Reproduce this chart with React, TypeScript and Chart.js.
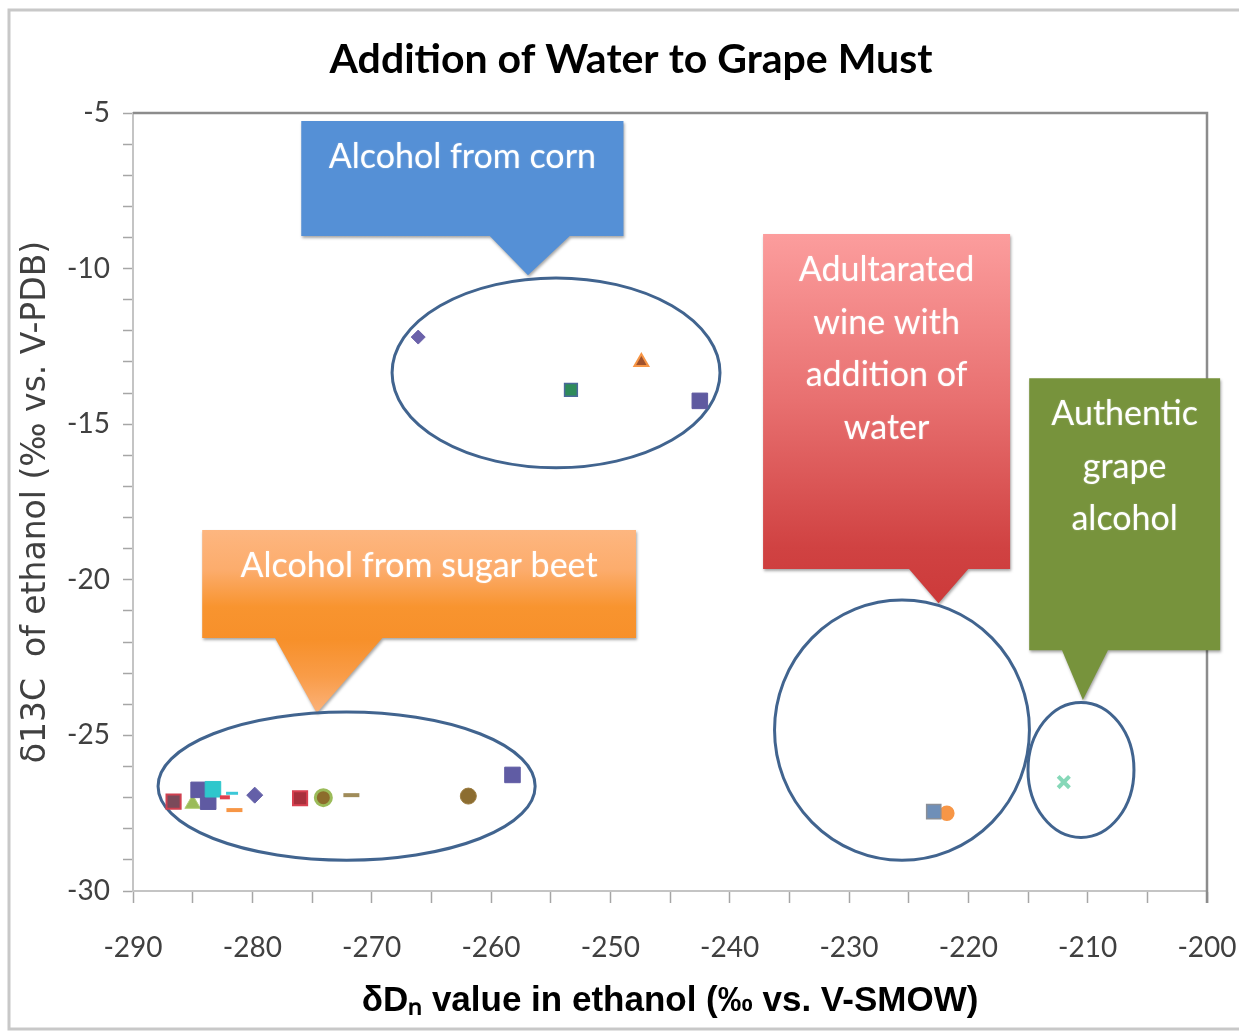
import { useEffect, useRef } from 'react';
import { Chart, registerables } from 'chart.js';

Chart.register(...registerables);

// ---------- text ----------
const chartTitle = 'Addition of Water to Grape Must';
const xAxisTitle = 'δDₙ value in ethanol (‰ vs. V-SMOW)';
const yAxisTitle = 'δ13C  of ethanol (‰ vs. V-PDB)';
const xTickLabels = ['-290', '-280', '-270', '-260', '-250', '-240', '-230', '-220', '-210', '-200'];
const yTickLabels = ['-5', '-10', '-15', '-20', '-25', '-30'];

// ---------- data (δD, δ13C) ----------
const cornD = [-266.1, -253.3, -247.4, -242.5];
const cornC = [-12.2, -13.9, -13.0, -14.25];

const beetD = [-286.6, -285.0, -284.5, -283.7, -283.3, -282.3, -281.7, -281.5, -279.8, -276.0, -274.05, -271.7, -261.9, -258.2];
const beetC = [-27.13, -27.2, -26.75, -27.13, -26.73, -26.99, -26.86, -27.4, -26.92, -27.02, -27.0, -26.92, -26.95, -26.27];

const adulteratedD = [-221.8, -222.9];
const adulteratedC = [-27.5, -27.45];

const authenticD = [-212.0];
const authenticC = [-26.5];

// ---------- callout texts ----------
const cornLabel = ['Alcohol from corn'];
const beetLabel = ['Alcohol from sugar beet'];
const adulteratedLabel = ['Adultarated', 'wine with', 'addition of', 'water'];
const authenticLabel = ['Authentic', 'grape', 'alcohol'];

// ---------- marker styles ----------
const cornMarkers = ['rectRot', 'rect', 'triangle', 'rect'];
const cornSizes = [7, 9, 8, 11];
const cornFill = ['#6b62aa', '#2e8b5a', '#a0522d', '#5f5aa0'];
const cornStroke = ['#6b62aa', '#4a6a9a', '#f79646', '#5f5aa0'];
const cornStrokeW = [1, 1.5, 2, 1];

const beetMarkers = ['rect', 'triangle', 'rect', 'rect', 'rect', 'line', 'line', 'line', 'rectRot', 'rect', 'circle', 'line', 'circle', 'rect'];
const beetSizes = [10, 9, 11, 11, 11, 5, 6, 8, 8, 10, 8, 8, 8, 11];
const beetFill = ['#7a4a5a', '#9bbb59', '#5f5aa2', '#5f5aa2', '#2ec7cc', '#e0404f', '#3cc8d8', '#f79646', '#6460a8', '#a8303c', '#8c6d2c', '#a08c5a', '#8c6d31', '#605ca4'];
const beetStroke = ['#d04050', '#b5d07a', '#5f5aa2', '#5f5aa2', '#2ec7cc', '#e0404f', '#3cc8d8', '#f79646', '#6460a8', '#d84050', '#9bbb59', '#a08c5a', '#9c7d41', '#605ca4'];
const beetStrokeW = [2, 1, 1, 1, 1, 4, 3, 4, 1, 2, 3, 4, 1, 1];

const adulteratedMarkers = ['circle', 'rect'];
const adulteratedSizes = [7, 10];
const adulteratedFill = ['#f79646', '#6f8fb8'];
const adulteratedStroke = ['#f79646', '#8a8f98'];

// ---------- annotation shapes (in data units) ----------
const ellipses = [
  { cx: -254.55, cy: -13.35, rx: 13.74, ry: 3.05 },
  { cx: -272.1, cy: -26.63, rx: 15.8, ry: 2.38 },
  { cx: -225.56, cy: -24.83, rx: 10.68, ry: 4.18 },
  { cx: -210.56, cy: -26.11, rx: 4.44, ry: 2.17 },
];

const callouts = [
  {
    lines: cornLabel,
    box: { x0: -275.9, x1: -248.9, y0: -5.26, y1: -8.95 },
    ptr: { x0: -260.1, x1: -253.4, tx: -256.9, ty: -10.21 },
    stops: [[0, '#5590d6'], [1, '#5590d6']],
  },
  {
    lines: beetLabel,
    box: { x0: -284.2, x1: -247.85, y0: -18.4, y1: -21.87 },
    ptr: { x0: -278.1, x1: -269.1, tx: -274.6, ty: -24.28 },
    stops: [[0, '#fdb680'], [0.22, '#fcac6c'], [0.42, '#f8942f'], [0.6, '#f7902a'], [0.8, '#f99c48'], [1, '#fbb27a']],
  },
  {
    lines: adulteratedLabel,
    box: { x0: -237.2, x1: -216.5, y0: -8.89, y1: -19.65 },
    ptr: { x0: -224.97, x1: -220.0, tx: -222.5, ty: -20.75 },
    stops: [[0, '#fc9d9d'], [0.45, '#e87070'], [0.85, '#d04242'], [1, '#cc3a3a']],
  },
  {
    lines: authenticLabel,
    box: { x0: -214.9, x1: -198.9, y0: -13.52, y1: -22.26 },
    ptr: { x0: -212.15, x1: -208.3, tx: -210.4, ty: -23.86 },
    stops: [[0, '#77933c'], [1, '#77933c']],
  },
];

const decorPlugin = {
  id: 'decor',
  beforeDraw(chart: any) {
    const { ctx, width, height } = chart;
    ctx.save();
    ctx.fillStyle = '#ffffff';
    ctx.fillRect(0, 0, width, height);
    ctx.strokeStyle = '#c8c8c8';
    ctx.lineWidth = 3;
    ctx.strokeRect(9, 10, width + 40, height - 12);
    ctx.restore();
  },
  beforeDatasetsDraw(chart: any) {
    const { ctx, chartArea: a, scales } = chart;
    const xs = scales.x;
    const ys = scales.y;
    ctx.save();
    // plot area top/right border
    ctx.strokeStyle = '#8c8c8c';
    ctx.lineWidth = 2.5;
    ctx.beginPath();
    ctx.moveTo(a.left, a.top);
    ctx.lineTo(a.right, a.top);
    ctx.lineTo(a.right, a.bottom + 12);
    ctx.stroke();

    // callouts
    for (const c of callouts) {
      const l = xs.getPixelForValue(c.box.x0);
      const r = xs.getPixelForValue(c.box.x1);
      const t = ys.getPixelForValue(c.box.y0);
      const b = ys.getPixelForValue(c.box.y1);
      const p0 = xs.getPixelForValue(c.ptr.x0);
      const p1 = xs.getPixelForValue(c.ptr.x1);
      const tx = xs.getPixelForValue(c.ptr.tx);
      const ty = ys.getPixelForValue(c.ptr.ty);
      const g = ctx.createLinearGradient(0, t, 0, ty);
      for (const [o, col] of c.stops) g.addColorStop(o as number, col as string);
      ctx.save();
      ctx.shadowColor = 'rgba(0,0,0,0.35)';
      ctx.shadowBlur = 3;
      ctx.shadowOffsetX = 1;
      ctx.shadowOffsetY = 2;
      ctx.fillStyle = g;
      ctx.beginPath();
      ctx.moveTo(l, t);
      ctx.lineTo(r, t);
      ctx.lineTo(r, b);
      ctx.lineTo(p1, b);
      ctx.lineTo(tx, ty);
      ctx.lineTo(p0, b);
      ctx.lineTo(l, b);
      ctx.closePath();
      ctx.fill();
      ctx.restore();

      ctx.save();
      ctx.fillStyle = '#ffffff';
      ctx.font = '34px Lato, "Open Sans", sans-serif';
      ctx.textAlign = 'center';
      ctx.textBaseline = 'middle';
      ctx.shadowColor = 'rgba(255,255,255,0.35)';
      ctx.shadowBlur = 2;
      const cx = (l + r) / 2;
      c.lines.forEach((line, i) => ctx.fillText(line, cx, t + 36 + i * 52.5));
      ctx.restore();
    }

    // ellipses
    ctx.strokeStyle = '#41648f';
    ctx.lineWidth = 3;
    for (const e of ellipses) {
      const px = xs.getPixelForValue(e.cx);
      const py = ys.getPixelForValue(e.cy);
      const rx = Math.abs(xs.getPixelForValue(e.cx + e.rx) - px);
      const ry = Math.abs(ys.getPixelForValue(e.cy + e.ry) - py);
      ctx.beginPath();
      ctx.ellipse(px, py, rx, ry, 0, 0, Math.PI * 2);
      ctx.stroke();
    }
    ctx.restore();
  },
};

const toPoints = (xs: number[], ys: number[]) => xs.map((x, i) => ({ x, y: ys[i] }));

export default function App() {
  const ref = useRef<HTMLCanvasElement>(null);
  useEffect(() => {
    const chart = new Chart(ref.current as HTMLCanvasElement, {
      type: 'scatter',
      data: {
        datasets: [
          {
            label: 'Alcohol from sugar beet',
            data: toPoints(beetD, beetC),
            pointStyle: beetMarkers as any,
            pointRadius: beetSizes,
            pointBackgroundColor: beetFill,
            pointBorderColor: beetStroke,
            pointBorderWidth: beetStrokeW,
          },
          {
            label: 'Alcohol from corn',
            data: toPoints(cornD, cornC),
            pointStyle: cornMarkers as any,
            pointRadius: cornSizes,
            pointBackgroundColor: cornFill,
            pointBorderColor: cornStroke,
            pointBorderWidth: cornStrokeW,
          },
          {
            label: 'Adulterated wine',
            data: toPoints(adulteratedD, adulteratedC),
            pointStyle: adulteratedMarkers as any,
            pointRadius: adulteratedSizes,
            pointBackgroundColor: adulteratedFill,
            pointBorderColor: adulteratedStroke,
            pointBorderWidth: 1.5,
          },
          {
            label: 'Authentic grape alcohol',
            data: toPoints(authenticD, authenticC),
            pointStyle: 'crossRot',
            pointRadius: 8,
            pointBackgroundColor: '#c8f0e0',
            pointBorderColor: '#86d8b8',
            pointBorderWidth: 4,
          },
        ],
      },
      options: {
        responsive: false,
        animation: false,
        devicePixelRatio: 1,
        events: [],
        layout: { padding: { left: 27, right: 4, top: 0, bottom: 0 } },
        plugins: {
          legend: { display: false },
          tooltip: { enabled: false },
          title: {
            display: true,
            text: chartTitle,
            color: '#000000',
            font: { family: 'Lato, "Open Sans", sans-serif', size: 41, weight: 'bold' },
            padding: { top: 35.4, bottom: 28.4 },
          },
        },
        scales: {
          x: {
            type: 'linear',
            min: -290,
            max: -200,
            afterFit: (s: any) => { s.height = 140; s.paddingLeft = 0; s.paddingRight = 32; },
            ticks: {
              stepSize: 5,
              autoSkip: false,
              maxRotation: 0,
              padding: 28,
              color: '#404040',
              font: { family: 'Lato, sans-serif', size: 28 },
              callback: (v: any) => {
                const s = String(v);
                return xTickLabels.includes(s) ? s : '';
              },
            },
            grid: { drawOnChartArea: false, drawTicks: true, tickLength: 12, tickColor: '#a6a6a6', tickWidth: 1.5 },
            border: { display: true, color: '#c4c4c4', width: 2 },
            title: {
              display: true,
              text: xAxisTitle,
              color: '#000000',
              font: { family: '"Liberation Sans", Arial, sans-serif', size: 35, weight: 'bold' },
              padding: { top: 0, bottom: 9 },
            },
          },
          y: {
            type: 'linear',
            min: -30,
            max: -5,
            afterFit: (s: any) => { s.width = 106; },
            ticks: {
              stepSize: 1,
              autoSkip: false,
              padding: 13,
              color: '#404040',
              font: { family: 'Lato, sans-serif', size: 28 },
              callback: (v: any) => {
                const s = String(v);
                return yTickLabels.includes(s) ? s : '';
              },
            },
            grid: { drawOnChartArea: false, drawTicks: true, tickLength: 10, tickColor: '#a6a6a6', tickWidth: 1.5 },
            border: { display: true, color: '#c4c4c4', width: 2 },
            title: {
              display: true,
              text: yAxisTitle,
              color: '#404040',
              font: { family: '"DejaVu Sans", sans-serif', size: 33, lineHeight: 0.6 },
              padding: { top: 0, bottom: 0 },
            },
          },
        },
      },
      plugins: [decorPlugin],
    } as any);
    return () => chart.destroy();
  }, []);

  return (
    <div style={{ position: 'absolute', left: 0, top: 0, width: 1239, height: 1031 }}>
      <canvas ref={ref} width={1239} height={1031} style={{ display: 'block', width: 1239, height: 1031 }} />
    </div>
  );
}
